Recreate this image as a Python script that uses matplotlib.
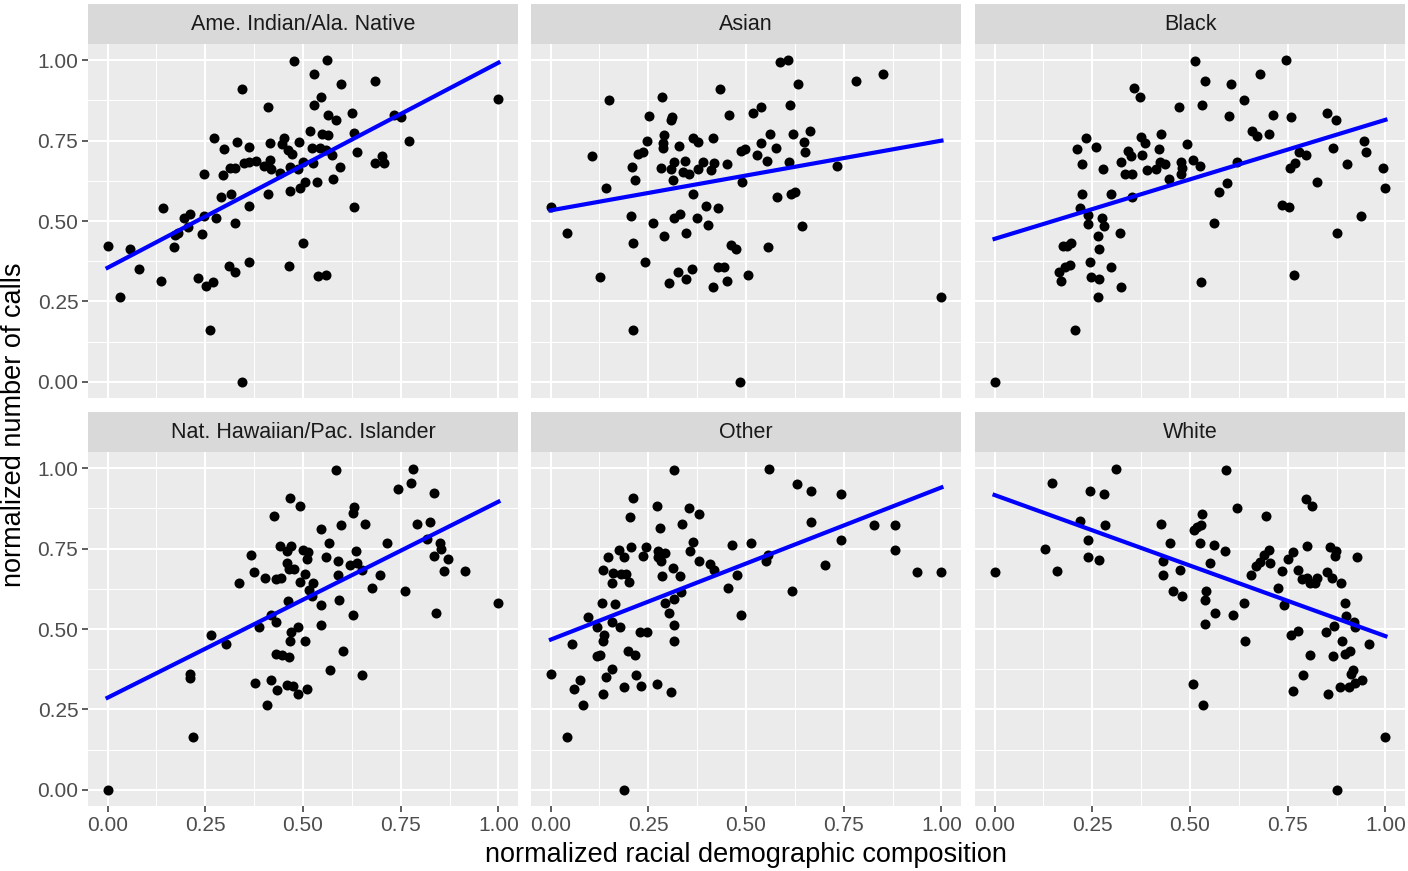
import numpy as np
import matplotlib
matplotlib.use("Agg")
import matplotlib.pyplot as plt

plt.rcParams['font.family'] = ['Liberation Sans', 'DejaVu Sans']

# facet titles
groups = ["Ame. Indian/Ala. Native", "Asian", "Black",
          "Nat. Hawaiian/Pac. Islander", "Other", "White"]

# one pair of lists per facet
x_aian = [0.00, 0.033, 0.057, 0.080, 0.137, 0.142, 0.171, 0.172, 0.179, 0.196, 0.205, 0.212,
          0.242, 0.247, 0.232, 0.251, 0.270, 0.262, 0.278, 0.290, 0.247, 0.273, 0.297, 0.295,
          0.312, 0.326, 0.317, 0.326, 0.311, 0.327, 0.343, 0.345, 0.330, 0.361, 0.348, 0.362,
          0.380, 0.361, 0.363, 0.410, 0.416, 0.399, 0.416, 0.418, 0.410, 0.441, 0.451, 0.445,
          0.461, 0.473, 0.466, 0.466, 0.465, 0.478, 0.490, 0.486, 0.499, 0.493, 0.505, 0.500,
          0.519, 0.527, 0.528, 0.545, 0.524, 0.525, 0.537, 0.539, 0.559, 0.561, 0.563, 0.548,
          0.563, 0.543, 0.558, 0.573, 0.585, 0.597, 0.594, 0.578, 0.626, 0.631, 0.638, 0.630,
          0.684, 0.683, 0.703, 0.707, 0.732, 0.751, 0.771, 1.000]
y_aian = [0.423, 0.263, 0.414, 0.350, 0.315, 0.539, 0.418, 0.456, 0.463, 0.508, 0.481, 0.522,
          0.461, 0.515, 0.323, 0.298, 0.310, 0.162, 0.508, 0.575, 0.645, 0.758, 0.724, 0.643,
          0.664, 0.666, 0.583, 0.493, 0.360, 0.340, 0.000, 0.910, 0.746, 0.731, 0.681, 0.684,
          0.686, 0.548, 0.373, 0.853, 0.742, 0.672, 0.688, 0.661, 0.583, 0.650, 0.759, 0.740,
          0.720, 0.707, 0.668, 0.593, 0.359, 0.996, 0.746, 0.661, 0.684, 0.603, 0.620, 0.432,
          0.780, 0.861, 0.956, 0.886, 0.726, 0.680, 0.620, 0.328, 0.333, 1.000, 0.828, 0.769,
          0.766, 0.728, 0.720, 0.705, 0.813, 0.925, 0.668, 0.629, 0.836, 0.772, 0.713, 0.544,
          0.934, 0.679, 0.702, 0.680, 0.830, 0.823, 0.749, 0.878]

x_asian = [0.000, 0.043, 0.105, 0.127, 0.141, 0.149, 0.205, 0.211, 0.210, 0.209, 0.216, 0.223,
           0.237, 0.246, 0.251, 0.242, 0.263, 0.286, 0.289, 0.288, 0.288, 0.283, 0.290, 0.304,
           0.311, 0.309, 0.309, 0.314, 0.317, 0.317, 0.331, 0.326, 0.328, 0.343, 0.340, 0.355,
           0.346, 0.346, 0.362, 0.365, 0.377, 0.365, 0.377, 0.391, 0.375, 0.398, 0.403, 0.415,
           0.410, 0.418, 0.428, 0.415, 0.428, 0.433, 0.444, 0.451, 0.452, 0.457, 0.462, 0.474,
           0.486, 0.498, 0.490, 0.485, 0.505, 0.517, 0.538, 0.527, 0.539, 0.553, 0.562, 0.556,
           0.577, 0.580, 0.586, 0.607, 0.613, 0.609, 0.616, 0.625, 0.621, 0.633, 0.648, 0.650,
           0.663, 0.642, 0.732, 0.781, 0.850, 1.000]
y_asian = [0.544, 0.462, 0.701, 0.326, 0.601, 0.876, 0.514, 0.432, 0.162, 0.667, 0.628, 0.707,
           0.713, 0.750, 0.827, 0.374, 0.495, 0.884, 0.766, 0.742, 0.726, 0.664, 0.454, 0.308,
           0.823, 0.813, 0.661, 0.626, 0.684, 0.508, 0.522, 0.340, 0.732, 0.686, 0.651, 0.645,
           0.462, 0.321, 0.350, 0.759, 0.745, 0.583, 0.661, 0.684, 0.508, 0.547, 0.489, 0.759,
           0.657, 0.680, 0.539, 0.296, 0.358, 0.910, 0.358, 0.315, 0.678, 0.828, 0.425, 0.414,
           0.718, 0.724, 0.620, 0.000, 0.333, 0.836, 0.853, 0.705, 0.742, 0.686, 0.769, 0.420,
           0.726, 0.576, 0.994, 1.001, 0.861, 0.684, 0.583, 0.591, 0.769, 0.925, 0.747, 0.715,
           0.780, 0.483, 0.670, 0.934, 0.956, 0.263]

x_black = [0.000, 0.206, 0.164, 0.170, 0.181, 0.192, 0.175, 0.185, 0.195, 0.212, 0.233, 0.224,
           0.260, 0.224, 0.218, 0.240, 0.238, 0.245, 0.248, 0.268, 0.265, 0.266, 0.265, 0.275,
           0.280, 0.278, 0.297, 0.297, 0.322, 0.323, 0.323, 0.333, 0.342, 0.349, 0.352, 0.351,
           0.358, 0.372, 0.375, 0.376, 0.386, 0.389, 0.414, 0.421, 0.425, 0.422, 0.437, 0.447,
           0.473, 0.476, 0.480, 0.478, 0.493, 0.507, 0.526, 0.512, 0.539, 0.531, 0.562, 0.528,
           0.575, 0.594, 0.599, 0.606, 0.620, 0.639, 0.659, 0.671, 0.678, 0.702, 0.713, 0.736,
           0.753, 0.745, 0.758, 0.756, 0.768, 0.767, 0.779, 0.798, 0.826, 0.850, 0.874, 0.865,
           0.876, 0.901, 0.937, 0.944, 0.951, 0.994, 1.000]
y_black = [0.000, 0.162, 0.342, 0.315, 0.356, 0.362, 0.423, 0.421, 0.432, 0.724, 0.758, 0.678,
           0.730, 0.583, 0.541, 0.520, 0.491, 0.374, 0.327, 0.321, 0.263, 0.414, 0.454, 0.508,
           0.483, 0.661, 0.583, 0.358, 0.462, 0.296, 0.684, 0.647, 0.718, 0.701, 0.647, 0.576,
           0.912, 0.884, 0.761, 0.705, 0.742, 0.657, 0.661, 0.724, 0.769, 0.684, 0.678, 0.630,
           0.853, 0.684, 0.664, 0.647, 0.738, 0.688, 0.670, 0.996, 0.934, 0.861, 0.494, 0.309,
           0.591, 0.619, 0.827, 0.925, 0.684, 0.877, 0.780, 0.763, 0.956, 0.769, 0.828, 0.549,
           0.543, 1.001, 0.823, 0.664, 0.680, 0.333, 0.715, 0.705, 0.620, 0.836, 0.813, 0.726,
           0.462, 0.678, 0.514, 0.749, 0.713, 0.666, 0.601]

x_nhpi = [0.000, 0.211, 0.212, 0.219, 0.264, 0.302, 0.336, 0.367, 0.374, 0.376, 0.388, 0.403,
          0.407, 0.417, 0.419, 0.430, 0.425, 0.430, 0.444, 0.434, 0.432, 0.447, 0.463, 0.442,
          0.458, 0.470, 0.459, 0.465, 0.478, 0.466, 0.461, 0.458, 0.475, 0.470, 0.468, 0.487,
          0.488, 0.492, 0.492, 0.501, 0.514, 0.509, 0.506, 0.504, 0.511, 0.526, 0.516, 0.523,
          0.545, 0.545, 0.545, 0.560, 0.567, 0.569, 0.584, 0.589, 0.589, 0.591, 0.596, 0.603,
          0.620, 0.630, 0.628, 0.636, 0.637, 0.628, 0.650, 0.650, 0.659, 0.676, 0.698, 0.715,
          0.744, 0.762, 0.775, 0.781, 0.791, 0.816, 0.824, 0.834, 0.836, 0.840, 0.850, 0.853,
          0.860, 0.872, 0.915, 1.000]
y_nhpi = [0.000, 0.360, 0.348, 0.163, 0.482, 0.453, 0.642, 0.729, 0.677, 0.333, 0.507, 0.660,
          0.263, 0.340, 0.542, 0.522, 0.851, 0.656, 0.660, 0.310, 0.422, 0.418, 0.414, 0.758,
          0.743, 0.758, 0.706, 0.687, 0.685, 0.907, 0.586, 0.327, 0.323, 0.491, 0.462, 0.507,
          0.298, 0.882, 0.646, 0.745, 0.739, 0.718, 0.671, 0.462, 0.315, 0.644, 0.621, 0.602,
          0.812, 0.576, 0.513, 0.723, 0.768, 0.373, 0.993, 0.712, 0.669, 0.590, 0.822, 0.433,
          0.700, 0.878, 0.859, 0.743, 0.704, 0.542, 0.683, 0.358, 0.826, 0.627, 0.669, 0.768,
          0.934, 0.619, 0.954, 0.998, 0.826, 0.781, 0.834, 0.923, 0.727, 0.549, 0.766, 0.749,
          0.679, 0.716, 0.679, 0.582]

x_other = [0.001, 0.043, 0.055, 0.060, 0.076, 0.083, 0.095, 0.119, 0.119, 0.127, 0.131, 0.134,
           0.136, 0.135, 0.134, 0.141, 0.158, 0.146, 0.160, 0.158, 0.158, 0.164, 0.175, 0.178,
           0.181, 0.187, 0.188, 0.187, 0.193, 0.200, 0.198, 0.202, 0.210, 0.207, 0.217, 0.219,
           0.231, 0.229, 0.236, 0.243, 0.246, 0.272, 0.273, 0.279, 0.275, 0.275, 0.292, 0.282,
           0.284, 0.292, 0.304, 0.308, 0.315, 0.313, 0.316, 0.316, 0.316, 0.332, 0.333, 0.335,
           0.354, 0.357, 0.364, 0.381, 0.381, 0.407, 0.417, 0.454, 0.463, 0.477, 0.487, 0.512,
           0.552, 0.555, 0.559, 0.618, 0.631, 0.666, 0.666, 0.702, 0.743, 0.744, 0.828, 0.882,
           0.882, 0.937, 1.000]
y_other = [0.359, 0.163, 0.453, 0.315, 0.341, 0.263, 0.538, 0.507, 0.416, 0.420, 0.581, 0.682,
           0.482, 0.463, 0.298, 0.350, 0.375, 0.723, 0.673, 0.644, 0.522, 0.577, 0.745, 0.507,
           0.672, 0.724, 0.000, 0.321, 0.670, 0.647, 0.432, 0.848, 0.906, 0.755, 0.420, 0.358,
           0.324, 0.491, 0.728, 0.755, 0.492, 0.330, 0.881, 0.813, 0.743, 0.723, 0.737, 0.710,
           0.665, 0.580, 0.549, 0.305, 0.994, 0.688, 0.594, 0.513, 0.462, 0.664, 0.616, 0.826,
           0.876, 0.743, 0.770, 0.858, 0.712, 0.703, 0.684, 0.627, 0.760, 0.668, 0.542, 0.768,
           0.712, 0.729, 0.998, 0.619, 0.950, 0.928, 0.831, 0.699, 0.920, 0.778, 0.824, 0.822,
           0.744, 0.676, 0.677]

x_white = [0.000, 0.129, 0.147, 0.159, 0.219, 0.240, 0.238, 0.244, 0.267, 0.280, 0.282, 0.311,
           0.425, 0.430, 0.430, 0.448, 0.456, 0.475, 0.480, 0.507, 0.511, 0.519, 0.531, 0.528,
           0.526, 0.533, 0.538, 0.540, 0.538, 0.552, 0.562, 0.564, 0.589, 0.591, 0.610, 0.620,
           0.639, 0.640, 0.656, 0.669, 0.678, 0.690, 0.702, 0.705, 0.695, 0.724, 0.736, 0.741,
           0.751, 0.763, 0.758, 0.775, 0.763, 0.775, 0.787, 0.790, 0.797, 0.811, 0.799, 0.800,
           0.807, 0.806, 0.821, 0.826, 0.847, 0.850, 0.852, 0.857, 0.864, 0.866, 0.869, 0.874,
           0.872, 0.876, 0.886, 0.884, 0.889, 0.896, 0.899, 0.896, 0.910, 0.906, 0.911, 0.918,
           0.920, 0.921, 0.923, 0.928, 0.940, 0.959, 1.000]
y_white = [0.677, 0.748, 0.955, 0.679, 0.836, 0.778, 0.725, 0.929, 0.714, 0.920, 0.822, 0.997,
           0.825, 0.710, 0.667, 0.768, 0.619, 0.683, 0.601, 0.330, 0.808, 0.817, 0.857, 0.823,
           0.767, 0.263, 0.516, 0.619, 0.590, 0.704, 0.760, 0.549, 0.741, 0.993, 0.545, 0.876,
           0.580, 0.462, 0.669, 0.696, 0.708, 0.729, 0.747, 0.704, 0.851, 0.628, 0.681, 0.575,
           0.716, 0.739, 0.482, 0.495, 0.308, 0.682, 0.655, 0.358, 0.904, 0.881, 0.759, 0.657,
           0.643, 0.420, 0.643, 0.660, 0.491, 0.678, 0.298, 0.755, 0.660, 0.416, 0.509, 0.742,
           0.728, 0.000, 0.643, 0.321, 0.462, 0.582, 0.540, 0.422, 0.432, 0.319, 0.360, 0.372,
           0.522, 0.506, 0.333, 0.725, 0.342, 0.453, 0.163]

xs = [x_aian, x_asian, x_black, x_nhpi, x_other, x_white]
ys = [y_aian, y_asian, y_black, y_nhpi, y_other, y_white]

ticks = [0, 0.25, 0.5, 0.75, 1.0]
tick_labels = ["0.00", "0.25", "0.50", "0.75", "1.00"]

W, H = 1408, 871
fig = plt.figure(figsize=(W / 100, H / 100), dpi=100)

lefts = [88, 531, 975]
pw = 430
tops = [44, 452]
ph = 354
strip_h = 40

for i, name in enumerate(groups):
    r, c = divmod(i, 3)
    l = lefts[c] / W
    b = 1 - (tops[r] + ph) / H
    ax = fig.add_axes([l, b, pw / W, ph / H])
    ax.set_facecolor("#EBEBEB")
    for s in ax.spines.values():
        s.set_visible(False)
    ax.set_xlim(-0.05, 1.05)
    ax.set_ylim(-0.05, 1.05)
    ax.set_xticks(ticks)
    ax.set_yticks(ticks)
    ax.set_xticks([0.125, 0.375, 0.625, 0.875], minor=True)
    ax.set_yticks([0.125, 0.375, 0.625, 0.875], minor=True)
    ax.grid(which="major", color="white", linewidth=1.5)
    ax.grid(which="minor", color="white", linewidth=0.75)
    ax.set_axisbelow(True)
    ax.tick_params(which="minor", length=0)
    ax.tick_params(which="major", length=4, width=1.1, color="#333333",
                   labelsize=15, labelcolor="#4D4D4D", pad=3)
    if r == 1:
        ax.set_xticklabels(tick_labels)
    else:
        ax.tick_params(axis="x", length=0, labelbottom=False)
    if c == 0:
        ax.set_yticklabels(tick_labels)
    else:
        ax.tick_params(axis="y", length=0, labelleft=False)

    x = np.array(xs[i])
    y = np.array(ys[i])
    ax.scatter(x, y, s=52, color="black", linewidths=0, zorder=3)
    k, d = np.polyfit(x, y, 1)
    xl = np.array([x.min(), x.max()])
    ax.plot(xl, k * xl + d, color="blue", linewidth=3, zorder=4)

    sax = fig.add_axes([l, 1 - tops[r] / H, pw / W, strip_h / H])
    sax.set_facecolor("#D9D9D9")
    sax.set_xticks([])
    sax.set_yticks([])
    for s in sax.spines.values():
        s.set_visible(False)
    sax.text(0.5, 0.5, name, ha="center", va="center", fontsize=15.5,
             color="#1A1A1A", transform=sax.transAxes)

fig.text(746 / W, 1 - 855 / H, "normalized racial demographic composition",
         ha="center", va="center", fontsize=19.5)
fig.text(14 / W, 1 - 425 / H, "normalized number of calls",
         ha="center", va="center", rotation=90, fontsize=19.5)

fig.savefig("out.png", dpi=100)
